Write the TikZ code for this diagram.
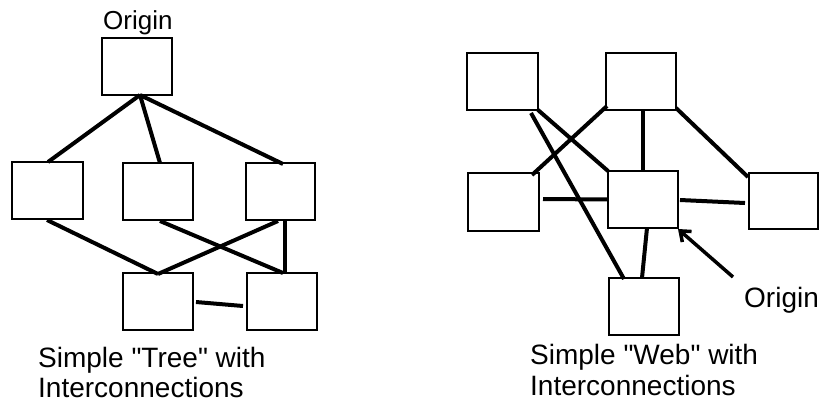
\documentclass[tikz,border=0pt]{standalone}
\usepackage{fontspec}
\setmainfont{Liberation Sans}[Ligatures=NoCommon,Mapping={}]
\usetikzlibrary{calc,arrows.meta}
\newcommand{\dq}{\char34\relax}
\begin{document}
\begin{tikzpicture}[x=1pt,y=-1pt,
  box/.style={draw=black,line width=1.2pt,fill=white,minimum width=70pt,minimum height=57pt,inner sep=0pt,outer sep=0pt},
  link/.style={line width=4pt,black},
  ptr/.style={line width=3.5pt,black,-{Straight Barb[length=9pt,width=14pt]}},
  captxt/.style={anchor=base west,inner sep=0pt,font=\fontsize{28}{31}\selectfont},
  lbl/.style={anchor=base west,inner sep=0pt,font=\fontsize{26}{30}\selectfont}]
\useasboundingbox (0,0) rectangle (819,407);
% ---------- Tree ----------
\node[box] (o)  at (137,66.5) {};
\node[box,minimum width=71pt] (t1) at (47.5,190.5) {};
\node[box] (t2) at (158,191.5) {};
\node[box,minimum width=69pt] (t3) at (280.5,191.5) {};
\node[box] (t4) at (158,301.5) {};
\node[box] (t5) at (282,301.5) {};
\node[lbl] (olabel) at (103,29) {Origin};
\draw[link] ($(o.south)+(3,0)$) -- ($(t1.north)+(0.5,0)$);
\draw[link] ($(o.south)+(3,0)$) -- ($(t2.north)+(2,0)$);
\draw[link] ($(o.south)+(3,0)$) -- ($(t3.north)+(2.5,1)$);
\draw[link] ($(t1.south)+(-0.5,1)$) -- ($(t4.north)+(0,1)$);
\draw[link] ($(t2.south)+(2,1)$) -- ($(t5.north)+(1,0)$);
\draw[link] ($(t3.south)+(-2.5,1)$) -- ($(t4.north)+(0,1)$);
\draw[link] ($(t3.south)+(4.5,0)$) -- ($(t5.north)+(3,0)$);
\draw[link] ($(t4.east)+(3,0.5)$) -- ($(t5.west)+(-4,4.5)$);
\node[captxt] (tc1) at (38,367) {Simple \dq Tree\dq\ with};
\node[captxt] (tc2) at (38,397) {Interconnections};
% ---------- Web ----------
\node[box,minimum width=71pt] (A) at (502.5,81.5) {};
\node[box] (B) at (641,81.5) {};
\node[box,minimum width=71pt,minimum height=58pt] (C) at (503.5,202) {};
\node[box,minimum width=69pt,minimum height=56pt] (E) at (783.5,201) {};
\node[box] (F) at (644,306.5) {};
\node[box] (D) at (643,199.5) {};
\draw[link] (A.south east) -- (D.north west);
\draw[link] ($(A.south east)+(-7,3)$) -- ($(F.north)+(-20,1)$);
\draw[link] ($(B.south west)+(1,-4)$) -- ($(C.north east)+(-7,2)$);
\draw[link] ($(B.south)+(2,0)$) -- ($(D.north)+(0,1)$);
\draw[link] ($(B.south east)+(0,-2)$) -- ($(E.north west)+(-1,4)$);
\draw[link] ($(C.east)+(4,-3)$) -- (D.west);
\draw[link] ($(D.east)+(2,0.5)$) -- ($(E.west)+(-4,2)$);
\draw[link] ($(D.south)+(4,0)$) -- ($(F.north)+(-2,0)$);
\coordinate (tail) at (733,277);
\draw[ptr] (tail) -- ($(D.south east)+(0,1)$);
\node[captxt] (wlabel) at (744,307) {Origin};
\node[captxt] (wc1) at (530,364) {Simple \dq Web\dq\ with};
\node[captxt] (wc2) at (530,395) {Interconnections};
\end{tikzpicture}
\end{document}
